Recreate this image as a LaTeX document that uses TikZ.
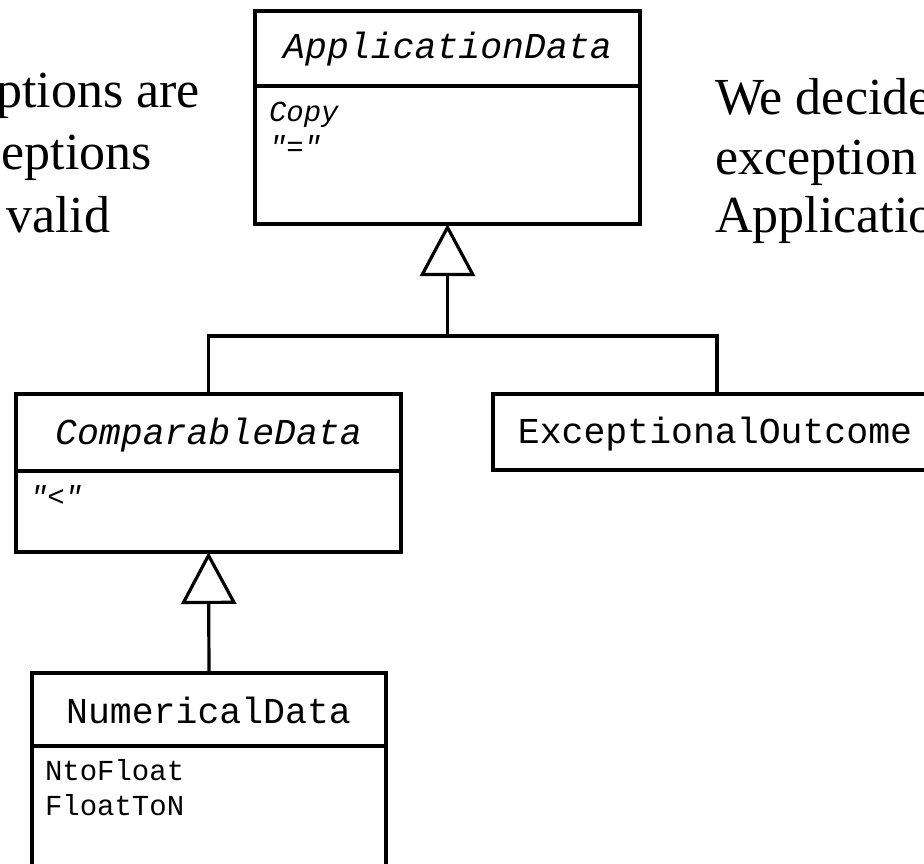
\documentclass[tikz,border=0pt]{standalone}
\usepackage{fontspec}
\setmainfont{Liberation Serif}
\newfontfamily\umlfont{Liberation Mono}
\usetikzlibrary{arrows.meta}

\begin{document}
\begin{tikzpicture}[x=1pt,y=-1pt]
  \tikzset{
    every node/.style={inner sep=0pt,outer sep=0pt},
    classbox/.style={draw,rectangle,line width=3.2pt},
    title/.style={font=\umlfont\fontsize{36.5}{40}\selectfont,anchor=base},
    member/.style={font=\umlfont\fontsize{29}{35}\selectfont,anchor=base west},
    note/.style={font=\fontsize{52}{59}\selectfont},
    inherit/.style={line width=3.2pt,-{Triangle[open,length=52pt,width=55pt]}}
  }
  \useasboundingbox (0,0) rectangle (924,864);
  \clip (0,0) rectangle (924,864);

  % class boxes
  \node[classbox,minimum width=385,minimum height=213] (appdata) at (447.5,117.5) {};
  \node[classbox,minimum width=385,minimum height=158] (comp) at (208.5,473) {};
  \node[classbox,minimum width=448,minimum height=76] (exc) at (717,432) {};
  \node[classbox,minimum width=354,minimum height=207] (num) at (209,776.5) {};

  \draw[line width=3.2pt] (appdata.west |- 0,86) -- (appdata.east |- 0,86);
  \draw[line width=3.2pt] (comp.west |- 0,471) -- (comp.east |- 0,471);
  \draw[line width=3.2pt] (num.west |- 0,746) -- (num.east |- 0,746);

  % names and operations
  \node[title] (appname) at (447.5,59) {\itshape ApplicationData};
  \node[member] (opcopy) at (269,122) {\itshape Copy};
  \node[member] (opeq) at (269,157) {\itshape "="};

  \node[title] (compname) at (208.5,444) {\itshape ComparableData};
  \node[member] (oplt) at (30,506) {\itshape "<"};

  \node[title] (excname) at (715,443) {ExceptionalOutcome};

  \node[title] (numname) at (208.5,723) {NumericalData};
  \node[member] (optofloat) at (45,780) {NtoFloat};
  \node[member] (opfromfloat) at (45,815) {FloatToN};

  % generalisations
  \coordinate (joint) at (appdata.south |- 0,336);
  \draw[line width=3.2pt] (comp.north) |- (joint) -| (exc.north);
  \draw[inherit] (joint) -- (appdata.south);
  \draw[inherit] (num.north) -- (comp.south);

  % side notes
  \node[note,anchor=base east] (leftA) at (200,108) {ptions are};
  \node[note,anchor=base east] (leftB) at (152,170) {eptions};
  \node[note,anchor=base east] (leftC) at (110,232) {valid};
  \node[note,anchor=base west] (rightA) at (715,115) {We decide};
  \node[note,anchor=base west] (rightB) at (715,175) {exception};
  \node[note,anchor=base west] (rightC) at (715,233) {Applicatio};
\end{tikzpicture}
\end{document}
